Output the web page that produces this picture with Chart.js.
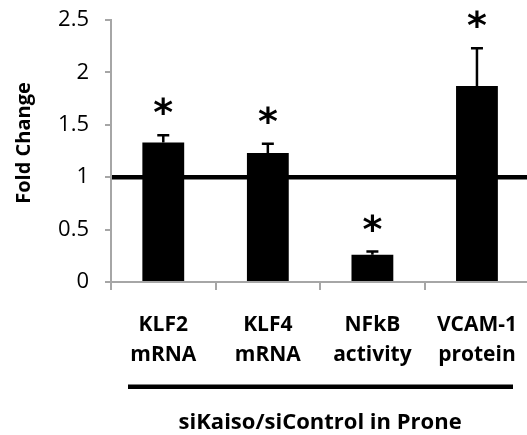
<!DOCTYPE html>
<html>
<head>
<meta charset="utf-8">
<script src="https://cdn.jsdelivr.net/npm/chart.js@4/dist/chart.umd.min.js"></script>
<style>
html,body{margin:0;padding:0;background:#fff;overflow:hidden;width:527px;height:435px;}
#wrap{width:537px;height:435px;}
</style>
</head>
<body>
<div id="wrap"><canvas id="c" width="537" height="435"></canvas></div>
<script>
const categories = [["KLF2","mRNA"],["KLF4","mRNA"],["NFkB","activity"],["VCAM-1","protein"]];
const foldChange = [1.33, 1.23, 0.26, 1.87];
const errorTop = [1.40, 1.32, 0.29, 2.23];
const significant = [true, true, true, true];
const yTicks = [0, 0.5, 1, 1.5, 2, 2.5];
const referenceLevel = 1;
const groupTitle = "siKaiso/siControl in Prone";
const yTitle = "Fold Change";

const FONT = "'Open Sans', Lato, sans-serif";

const extras = {
  id: 'extras',
  beforeDatasetsDraw(chart) {
    const {ctx, chartArea, scales} = chart;
    const y = scales.y.getPixelForValue(referenceLevel);
    ctx.save();
    ctx.strokeStyle = '#000';
    ctx.lineWidth = 4.5;
    ctx.beginPath();
    ctx.moveTo(chartArea.left + 1, y);
    ctx.lineTo(chart.width, y);
    ctx.stroke();
    ctx.restore();
  },
  afterDatasetsDraw(chart) {
    const {ctx, scales} = chart;
    const meta = chart.getDatasetMeta(0);
    ctx.save();
    meta.data.forEach((bar, i) => {
      const x = bar.x;
      const yTop = scales.y.getPixelForValue(foldChange[i]);
      const yErr = scales.y.getPixelForValue(errorTop[i]);
      ctx.strokeStyle = '#000';
      ctx.lineWidth = 2.5;
      ctx.beginPath();
      ctx.moveTo(x, yTop);
      ctx.lineTo(x, yErr);
      ctx.moveTo(x - 6, yErr);
      ctx.lineTo(x + 6, yErr);
      ctx.stroke();
      if (significant[i]) {
        ctx.fillStyle = '#000';
        ctx.font = "bold 38px 'DejaVu Sans'";
        ctx.textAlign = 'center';
        ctx.textBaseline = 'alphabetic';
        const m = ctx.measureText('*');
        const cy = yErr - 29;
        ctx.fillText('*', x, cy + (m.actualBoundingBoxAscent - m.actualBoundingBoxDescent) / 2);
      }
    });
    // group underline
    ctx.fillStyle = '#000';
    ctx.fillRect(128, 384.5, 385, 4.5);
    // y axis title
    ctx.translate(24, 143);
    ctx.rotate(-Math.PI / 2);
    ctx.font = "bold 20px " + FONT;
    ctx.textAlign = 'center';
    ctx.textBaseline = 'middle';
    ctx.fillText(yTitle, 0, 0);
    ctx.restore();
  }
};

new Chart(document.getElementById('c'), {
  type: 'bar',
  data: {
    labels: categories,
    datasets: [{
      data: foldChange,
      backgroundColor: '#000',
      borderWidth: 0,
      barPercentage: 0.4,
      categoryPercentage: 1.0
    }]
  },
  options: {
    responsive: false,
    animation: false,
    events: [],
    layout: { padding: { top: 20, right: 0, left: 0, bottom: 0 } },
    plugins: { legend: { display: false }, tooltip: { enabled: false } },
    scales: {
      y: {
        min: 0, max: 2.5,
        afterFit(s) { s.width = 111; },
        afterBuildTicks(s) { s.ticks = yTicks.map(v => ({value: v})); },
        border: { display: true, color: '#a6a6a6', width: 2 },
        grid: { display: true, drawOnChartArea: false, drawTicks: true, tickLength: 6, color: '#a6a6a6', lineWidth: 2 },
        ticks: { color: '#000', font: { family: FONT, size: 22, lineHeight: 0.3 }, padding: 16, callback: v => String(v) }
      },
      x: {
        afterFit(s) { s.height = 153; },
        border: { display: true, color: '#a6a6a6', width: 2 },
        grid: { display: true, drawOnChartArea: false, drawTicks: true, tickLength: 8, color: '#a6a6a6', lineWidth: 2, offset: true },
        ticks: { color: '#000', font: { family: FONT, size: 21, weight: 'bold', lineHeight: 1.43 }, padding: 20, maxRotation: 0 },
        title: { display: true, text: groupTitle, color: '#000', font: { family: FONT, size: 22, weight: 'bold' }, padding: { top: 10, bottom: -1 } }
      }
    }
  },
  plugins: [extras]
});
</script>
</body>
</html>
